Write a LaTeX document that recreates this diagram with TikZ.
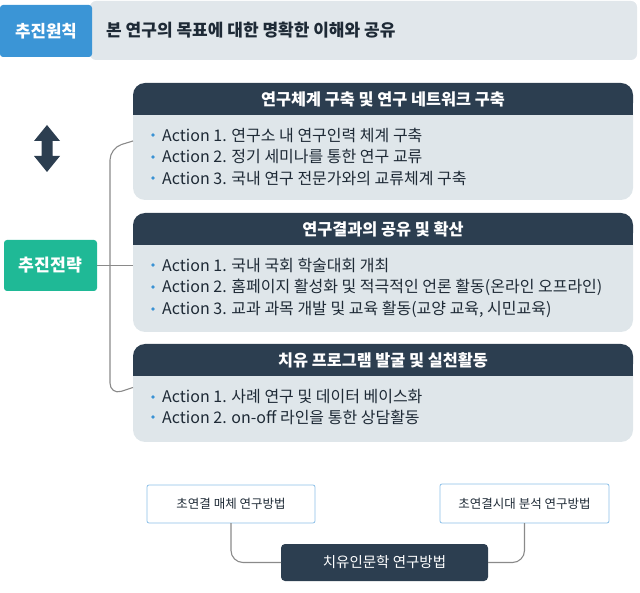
\documentclass[tikz,border=0pt]{standalone}
\usepackage{fontspec}
\setmainfont{Noto Sans CJK KR}
\definecolor{navy}{HTML}{2C3E50}
\definecolor{bodygray}{HTML}{DFE6EA}
\definecolor{topgray}{HTML}{E1E7EB}
\definecolor{kblue}{HTML}{3B95D6}
\definecolor{kgreen}{HTML}{1FB996}
\definecolor{txt}{HTML}{1E2A36}
\definecolor{conncol}{HTML}{8A8A8A}
\definecolor{lborder}{HTML}{8CC0E8}
\definecolor{bullcol}{HTML}{3A92D4}
\begin{document}
\begin{tikzpicture}[x=1pt,y=-1pt,
  box/.style={anchor=north west, inner sep=0pt, outer sep=0pt},
  bodybox/.style={box, fill=bodygray, rounded corners=12pt, minimum width=500pt},
  headbox/.style={box, fill=navy, rounded corners=12pt, minimum width=500pt, minimum height=32pt},
  headtxt/.style={text=white, font=\bfseries\fontsize{16.3}{18}\selectfont, inner sep=0pt},
  item/.style={anchor=west, text=txt, font=\fontsize{16}{18}\selectfont, inner sep=0pt},
  bull/.style={circle, fill=bullcol, inner sep=0pt, minimum size=3.8pt},
  connector/.style={draw=conncol, line width=1.1pt, rounded corners=12pt},
  smallbox/.style={box, fill=white, draw=lborder, line width=0.8pt, rounded corners=2pt, text=txt, font=\fontsize{12.5}{14}\selectfont}
]
\useasboundingbox (0,0) rectangle (640,593);

% top row
\node[box, fill=topgray, rounded corners=6pt, minimum width=547pt, minimum height=59pt] (goal) at (90,1) {};
\node[anchor=west, inner sep=0pt, text=txt, font=\bfseries\fontsize{17}{19}\selectfont] (goaltxt) at (106,30) {본 연구의 목표에 대한 명확한 이해와 공유};
\node[box, fill=kblue, rounded corners=3pt, minimum width=92pt, minimum height=52pt, text=white, font=\bfseries\fontsize{16.8}{19}\selectfont] (principle) at (0,5) {추진원칙};

% double arrow
\fill[navy] (47,125) -- (60,141) -- (52.5,141) -- (52.5,156) -- (60,156) -- (47,172)
  -- (34,156) -- (41.5,156) -- (41.5,141) -- (34,141) -- cycle;

% strategy
\node[box, fill=kgreen, rounded corners=3pt, minimum width=93pt, minimum height=51pt, text=white, font=\bfseries\fontsize{17.2}{19}\selectfont] (strategy) at (4,240) {추진전략};

% box 1
\node[bodybox, minimum height=100pt] (b1) at (133,100) {};
\node[headbox] (h1) at (133,83) {};
\fill[navy] (h1.west) rectangle (h1.south east);
\node[headtxt] (h1t) at (h1.center) {연구체계 구축 및 연구 네트워크 구축};
\node[bull] (p11) at (153,135) {}; \node[item] (t11) at (162,135) {Action 1. 연구소 내 연구인력 체계 구축};
\node[bull] (p12) at (153,157) {}; \node[item] (t12) at (162,157) {Action 2. 정기 세미나를 통한 연구 교류};
\node[bull] (p13) at (153,178) {}; \node[item] (t13) at (162,178) {Action 3. 국내 연구 전문가와의 교류체계 구축};

% box 2
\node[bodybox, minimum height=102pt] (b2) at (133,230) {};
\node[headbox] (h2) at (133,213) {};
\fill[navy] (h2.west) rectangle (h2.south east);
\node[headtxt] (h2t) at (h2.center) {연구결과의 공유 및 확산};
\node[bull] (p21) at (153,265) {}; \node[item] (t21) at (162,265) {Action 1. 국내 국회 학술대회 개최};
\node[bull] (p22) at (153,287) {}; \node[item] (t22) at (162,287) {Action 2. 홈페이지 활성화 및 적극적인 언론 활동(온라인 오프라인)};
\node[bull] (p23) at (153,309) {}; \node[item] (t23) at (162,309) {Action 3. 교과 과목 개발 및 교육 활동(교양 교육, 시민교육)};

% box 3
\node[bodybox, minimum height=81pt] (b3) at (133,361) {};
\node[headbox] (h3) at (133,344) {};
\fill[navy] (h3.west) rectangle (h3.south east);
\node[headtxt] (h3t) at (h3.center) {치유 프로그램 발굴 및 실천활동};
\node[bull] (p31) at (153,397) {}; \node[item] (t31) at (162,397) {Action 1. 사례 연구 및 데이터 베이스화};
\node[bull] (p32) at (153,417) {}; \node[item] (t32) at (162,417) {Action 2. on-off 라인을 통한 상담활동};

% tree connectors
\coordinate (e1) at ([yshift=9pt]b1.west);
\coordinate (e3) at ([yshift=14pt]b3.west);
\draw[connector] (e1) -- (110,148) -- (110,395) -- (e3);
\draw[draw=conncol, line width=1.1pt] (strategy.east) -- (strategy.east -| b2.west);

% bottom methods
\node[smallbox, minimum width=168pt, minimum height=38pt] (lb) at (147,485) {초연결 매체 연구방법};
\node[smallbox, minimum width=169pt, minimum height=39pt] (rb) at (440,484) {초연결시대 분석 연구방법};
\node[box, fill=navy, rounded corners=4pt, minimum width=207pt, minimum height=37pt, text=white, font=\fontsize{14.5}{16}\selectfont] (mid) at (281,544) {치유인문학 연구방법};
\draw[connector] (lb.south) |- (mid.west);
\draw[connector] (rb.south) |- (mid.east);
\end{tikzpicture}
\end{document}
